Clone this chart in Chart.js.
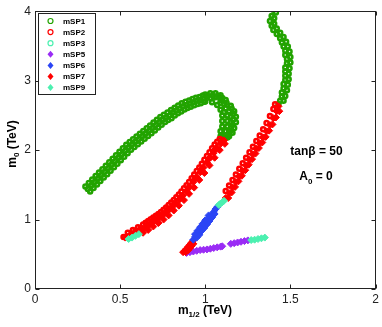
<!DOCTYPE html>
<html>
<head>
<meta charset="utf-8">
<script src="https://cdn.jsdelivr.net/npm/chart.js"></script>
<style>
  body { margin: 0; background: #fff; }
  #wrap { width: 382px; height: 327px; }
</style>
</head>
<body>
<div id="wrap"><canvas id="chart" width="382" height="327"></canvas></div>
<script>
// ticks
const xTicks = [0, 0.5, 1, 1.5, 2];
const yTicks = [0, 1, 2, 3, 4];

// mSP1 (green open circles): left arc, hook, upper right branch
const mSP1 = [
  // arc, centre row
  [0.31, 1.44], [0.33, 1.49], [0.35, 1.54], [0.37, 1.59], [0.39, 1.64], [0.41, 1.69],
  [0.43, 1.74], [0.45, 1.79], [0.47, 1.84], [0.49, 1.89], [0.51, 1.94], [0.53, 1.99],
  [0.55, 2.04], [0.57, 2.08], [0.59, 2.12], [0.61, 2.16], [0.63, 2.20], [0.65, 2.24],
  [0.67, 2.28], [0.69, 2.32], [0.71, 2.36], [0.73, 2.40], [0.75, 2.44], [0.77, 2.47],
  [0.79, 2.50], [0.81, 2.54], [0.83, 2.57], [0.85, 2.60], [0.87, 2.63], [0.89, 2.65],
  [0.91, 2.67], [0.93, 2.69], [0.95, 2.71], [0.97, 2.72], [0.99, 2.74],
  // arc, upper row
  [0.296, 1.476], [0.316, 1.526], [0.336, 1.576], [0.356, 1.626], [0.376, 1.676],
  [0.396, 1.726], [0.416, 1.776], [0.436, 1.826], [0.456, 1.876], [0.476, 1.926],
  [0.496, 1.976], [0.516, 2.026], [0.536, 2.076], [0.556, 2.116], [0.576, 2.156],
  [0.596, 2.196], [0.616, 2.236], [0.636, 2.276], [0.656, 2.316], [0.676, 2.356],
  [0.696, 2.396], [0.716, 2.436], [0.736, 2.476], [0.757, 2.508], [0.778, 2.54],
  [0.799, 2.578], [0.82, 2.61], [0.841, 2.643], [0.862, 2.675], [0.884, 2.695],
  [0.905, 2.715], [0.925, 2.735], [0.945, 2.755], [0.966, 2.765], [0.986, 2.785],
  // arc, lower row
  [0.324, 1.404], [0.344, 1.454], [0.364, 1.504], [0.384, 1.554], [0.404, 1.604],
  [0.424, 1.654], [0.444, 1.704], [0.464, 1.754], [0.484, 1.804], [0.504, 1.854],
  [0.524, 1.904], [0.544, 1.954], [0.564, 2.004], [0.584, 2.044], [0.604, 2.084],
  [0.624, 2.124], [0.644, 2.164], [0.664, 2.204], [0.684, 2.244], [0.704, 2.284],
  [0.724, 2.324], [0.744, 2.364], [0.764, 2.404], [0.782, 2.432], [0.802, 2.46],
  [0.821, 2.50], [0.84, 2.53], [0.859, 2.557], [0.878, 2.585], [0.896, 2.605],
  [0.915, 2.625], [0.935, 2.645], [0.955, 2.665], [0.974, 2.675], [0.994, 2.695],
  // hook
  [1.00, 2.80], [1.03, 2.82], [1.06, 2.82], [1.09, 2.79], [1.12, 2.72], [1.15, 2.64],
  [1.17, 2.56], [1.18, 2.48], [1.18, 2.40], [1.17, 2.32], [1.16, 2.25], [1.14, 2.20],
  [1.11, 2.17],
  [1.00, 2.70], [1.04, 2.69], [1.07, 2.65], [1.09, 2.58], [1.10, 2.50], [1.10, 2.42],
  [1.10, 2.34], [1.09, 2.27], [1.09, 2.20],
  [1.03, 2.75], [1.06, 2.76], [1.09, 2.72], [1.11, 2.66], [1.12, 2.60], [1.14, 2.56],
  [1.13, 2.50], [1.15, 2.48], [1.13, 2.42], [1.15, 2.40], [1.13, 2.34], [1.15, 2.32],
  [1.12, 2.27], [1.14, 2.26], [1.12, 2.21], [1.11, 2.55], [1.09, 2.68],
  [1.015, 2.78], [1.045, 2.79], [1.075, 2.78], [1.10, 2.75], [1.125, 2.68], [1.155, 2.60],
  [1.165, 2.52], [1.165, 2.44], [1.16, 2.36], [1.15, 2.28], [1.13, 2.18], [1.10, 2.22],
  // upper right branch
  [1.40, 4.02], [1.39, 3.93], [1.38, 3.86], [1.39, 3.79], [1.40, 3.73], [1.42, 3.67],
  [1.44, 3.61], [1.45, 3.55], [1.46, 3.49], [1.47, 3.43], [1.47, 3.37], [1.48, 3.31],
  [1.48, 3.25], [1.47, 3.19], [1.47, 3.13], [1.47, 3.07], [1.47, 3.01], [1.46, 2.95],
  [1.46, 2.89], [1.45, 2.83], [1.45, 2.77], [1.44, 2.71], [1.43, 2.66],
  [1.415, 3.98], [1.405, 3.90], [1.405, 3.82], [1.42, 3.75], [1.44, 3.69], [1.46, 3.63],
  [1.475, 3.56], [1.485, 3.49], [1.495, 3.42], [1.50, 3.34], [1.50, 3.26], [1.495, 3.18],
  [1.49, 3.10], [1.49, 3.02], [1.485, 2.94], [1.48, 2.86], [1.47, 2.78], [1.46, 2.71]
];

// mSP2 (red open circles): upper-left edge of both red bands
const mSP2 = [
  [0.52, 0.75], [0.545, 0.81], [0.575, 0.85], [0.605, 0.89], [0.635, 0.93], [0.665, 0.98],
  [0.695, 1.03], [0.725, 1.08], [0.755, 1.14], [0.785, 1.21], [0.815, 1.28], [0.845, 1.36],
  [0.875, 1.45], [0.905, 1.54], [0.935, 1.65], [0.965, 1.75], [0.995, 1.86], [1.025, 1.97],
  [1.055, 2.08], [1.085, 2.16],
  [0.59, 0.83], [0.62, 0.87], [0.65, 0.955], [0.68, 1.005], [0.71, 1.055], [0.74, 1.11],
  [0.77, 1.175], [0.80, 1.245], [0.83, 1.32], [0.86, 1.405], [0.89, 1.495], [0.92, 1.595],
  [0.95, 1.70], [0.98, 1.805], [1.01, 1.915], [1.04, 2.025], [1.07, 2.12],
  [1.12, 1.41], [1.14, 1.49], [1.16, 1.57], [1.18, 1.65], [1.20, 1.73], [1.22, 1.81],
  [1.24, 1.89], [1.26, 1.97], [1.28, 2.05], [1.30, 2.13], [1.32, 2.21], [1.34, 2.30],
  [1.36, 2.39], [1.38, 2.49], [1.40, 2.59], [1.41, 2.66]
];

const mSP3 = [];

// mSP5 (purple diamonds): low branch
const mSP5 = [
  [0.89, 0.52], [0.91, 0.53], [0.93, 0.54], [0.95, 0.55], [0.97, 0.56], [0.99, 0.565],
  [1.01, 0.57], [1.03, 0.58], [1.05, 0.59], [1.07, 0.60], [1.09, 0.61], [1.10, 0.615],
  [1.15, 0.65], [1.17, 0.66], [1.19, 0.67], [1.21, 0.68], [1.23, 0.69], [1.25, 0.70]
];

// mSP6 (blue diamonds)
const mSP6 = [
  [0.93, 0.71], [0.94, 0.75], [0.95, 0.79], [0.965, 0.83], [0.975, 0.87], [0.99, 0.91],
  [1.00, 0.95], [1.015, 0.99], [1.025, 1.03], [1.04, 1.07], [1.05, 1.11], [1.06, 1.15],
  [1.07, 1.18],
  [0.95, 0.74], [0.965, 0.78], [0.98, 0.84], [0.995, 0.88], [1.01, 0.93], [1.025, 0.98],
  [1.04, 1.03], [1.055, 1.08],
  [0.94, 0.79], [0.955, 0.84], [0.97, 0.89], [0.985, 0.94], [1.00, 0.99], [1.02, 1.06]
];

// mSP7 (red diamonds): body of the red bands
const mSP7 = [
  // left band, centre row
  [0.53, 0.74], [0.55, 0.76], [0.57, 0.785], [0.59, 0.81], [0.61, 0.835], [0.63, 0.86],
  [0.65, 0.89], [0.67, 0.92], [0.69, 0.955], [0.71, 0.99], [0.73, 1.025], [0.75, 1.06],
  [0.77, 1.10], [0.79, 1.145], [0.81, 1.19], [0.83, 1.24], [0.85, 1.29], [0.87, 1.35],
  [0.89, 1.41], [0.91, 1.47], [0.93, 1.54], [0.95, 1.61], [0.97, 1.68], [0.99, 1.75],
  [1.01, 1.82], [1.03, 1.89], [1.05, 1.96], [1.07, 2.03], [1.09, 2.09], [1.11, 2.14],
  // left band, between centre and upper edge
  [0.66, 0.925], [0.70, 0.99], [0.74, 1.063], [0.78, 1.14], [0.82, 1.235], [0.86, 1.34],
  [0.90, 1.46], [0.94, 1.595], [0.98, 1.735], [1.02, 1.875], [1.06, 2.015], [1.10, 2.135],
  // left band, lower row
  [0.635, 0.81], [0.665, 0.85], [0.695, 0.90], [0.725, 0.95], [0.755, 1.00], [0.785, 1.06],
  [0.815, 1.13], [0.845, 1.20], [0.875, 1.28], [0.905, 1.37], [0.935, 1.46], [0.965, 1.57],
  [0.995, 1.67], [1.025, 1.78], [1.055, 1.89], [1.085, 2.00], [1.115, 2.09],
  // right band, bottom
  [0.87, 0.53], [0.88, 0.55], [0.89, 0.58], [0.90, 0.61], [0.91, 0.64], [0.92, 0.67],
  [0.93, 0.70], [0.885, 0.53], [0.90, 0.56], [0.91, 0.59], [0.92, 0.62], [0.93, 0.65],
  // right band, above the cyan
  [1.12, 1.31], [1.14, 1.38], [1.16, 1.46], [1.18, 1.54], [1.20, 1.62], [1.22, 1.70],
  [1.24, 1.78], [1.26, 1.86], [1.28, 1.94], [1.30, 2.02], [1.32, 2.10], [1.34, 2.18],
  [1.36, 2.27], [1.38, 2.36], [1.40, 2.46], [1.42, 2.56], [1.43, 2.63],
  [1.135, 1.31], [1.155, 1.39], [1.175, 1.47], [1.195, 1.55], [1.215, 1.63], [1.235, 1.71],
  [1.255, 1.79], [1.275, 1.87], [1.295, 1.95], [1.315, 2.03], [1.335, 2.11], [1.355, 2.19],
  [1.375, 2.28], [1.395, 2.37], [1.415, 2.47], [1.435, 2.56]
];

// mSP9 (cyan diamonds)
const mSP9 = [
  [0.55, 0.72], [0.57, 0.74], [0.59, 0.765], [0.61, 0.79],
  [1.08, 1.21], [1.09, 1.23], [1.10, 1.25], [1.11, 1.27],
  [1.27, 0.705], [1.29, 0.71], [1.31, 0.72], [1.33, 0.73], [1.35, 0.74]
];

const GREEN = '#22a300';
const RED = '#ff0000';
const CYAN = '#4cf0b0';
const PURPLE = '#9a2cf5';
const BLUE = '#2b45f5';

const toXY = arr => arr.map(p => ({ x: p[0], y: p[1] }));

function openSet(label, data, color, order) {
  return {
    label, data: toXY(data), order,
    pointStyle: 'circle', pointRadius: 2, borderWidth: 2.5,
    borderColor: color, backgroundColor: 'rgba(0,0,0,0)'
  };
}
function fillSet(label, data, color, order) {
  return {
    label, data: toXY(data), order,
    pointStyle: 'rectRot', pointRadius: 3.5, borderWidth: 1,
    borderColor: color, backgroundColor: color
  };
}

const datasets = [
  openSet('mSP1', mSP1, GREEN, 6),
  openSet('mSP2', mSP2, RED, 5),
  openSet('mSP3', mSP3, CYAN, 4),
  fillSet('mSP5', mSP5, PURPLE, 3),
  fillSet('mSP6', mSP6, BLUE, 1),
  fillSet('mSP7', mSP7, RED, 2),
  fillSet('mSP9', mSP9, CYAN, 0)
];

const FONT = '"Liberation Sans", Arial, Helvetica, sans-serif';

// draw text made of parts (subscripts shifted by dy)
function subText(ctx, parts, x, y, align) {
  let total = 0;
  parts.forEach(p => { ctx.font = p.font; p.w = ctx.measureText(p.t).width; total += p.w; });
  let cx = align === 'center' ? x - total / 2 : x;
  parts.forEach(p => {
    ctx.font = p.font;
    ctx.fillText(p.t, cx, y + (p.dy || 0));
    cx += p.w;
  });
}

const framePlugin = {
  id: 'frame',
  afterDatasetsDraw(chart) {
    const ctx = chart.ctx;
    const a = chart.chartArea;
    const xs = chart.scales.x, ys = chart.scales.y;
    ctx.save();
    ctx.strokeStyle = '#222';
    ctx.lineWidth = 1;
    const L = Math.round(a.left) + 0.5, R = Math.round(a.right) - 0.5;
    const T = Math.round(a.top) + 0.5, B = Math.round(a.bottom) - 0.5;
    ctx.strokeRect(L, T, R - L, B - T);
    ctx.beginPath();
    xTicks.forEach(v => {
      const px = Math.round(xs.getPixelForValue(v)) + 0.5;
      ctx.moveTo(px, B); ctx.lineTo(px, B - 4);
      ctx.moveTo(px, T); ctx.lineTo(px, T + 4);
    });
    yTicks.forEach(v => {
      const py = Math.round(ys.getPixelForValue(v)) + 0.5;
      ctx.moveTo(L, py); ctx.lineTo(L + 4, py);
      ctx.moveTo(R, py); ctx.lineTo(R - 4, py);
    });
    ctx.stroke();

    // legend box
    ctx.fillStyle = '#fff';
    ctx.fillRect(38.5, 13.5, 57, 81);
    ctx.strokeRect(38.5, 13.5, 57, 81);
    chart.data.datasets.forEach((ds, i) => {
      const cy = 21 + i * 11.1;
      const cx = 50.5;
      ctx.beginPath();
      if (ds.pointStyle === 'circle') {
        ctx.arc(cx, cy, 2.5, 0, Math.PI * 2);
        ctx.strokeStyle = ds.borderColor;
        ctx.lineWidth = 1.2;
        ctx.stroke();
      } else {
        ctx.moveTo(cx, cy - 3.5); ctx.lineTo(cx + 3, cy);
        ctx.lineTo(cx, cy + 3.5); ctx.lineTo(cx - 3, cy);
        ctx.closePath();
        ctx.fillStyle = ds.backgroundColor;
        ctx.fill();
      }
      ctx.fillStyle = '#000';
      ctx.font = 'bold 8px ' + FONT;
      ctx.textBaseline = 'middle';
      ctx.textAlign = 'left';
      ctx.fillText(ds.label, 63, cy + 0.5);
    });

    // annotations
    ctx.fillStyle = '#000';
    ctx.textBaseline = 'alphabetic';
    ctx.textAlign = 'left';
    subText(ctx, [{ t: 'tanβ = 50', font: 'bold 12px ' + FONT }], 316.5, 154.5, 'center');
    subText(ctx, [
      { t: 'A', font: 'bold 12px ' + FONT },
      { t: '0', font: 'bold 8px ' + FONT, dy: 4 },
      { t: ' = 0', font: 'bold 12px ' + FONT }
    ], 316, 179.5, 'center');

    // axis titles
    subText(ctx, [
      { t: 'm', font: 'bold 12px ' + FONT },
      { t: '1/2', font: 'bold 8px ' + FONT, dy: 3 },
      { t: ' (TeV)', font: 'bold 12px ' + FONT }
    ], 205, 313.5, 'center');
    ctx.translate(15.5, 144);
    ctx.rotate(-Math.PI / 2);
    subText(ctx, [
      { t: 'm', font: 'bold 12px ' + FONT },
      { t: '0', font: 'bold 8px ' + FONT, dy: 3 },
      { t: ' (TeV)', font: 'bold 12px ' + FONT }
    ], 0, 0, 'center');
    ctx.restore();
  }
};

new Chart(document.getElementById('chart'), {
  type: 'scatter',
  data: { datasets },
  options: {
    responsive: false,
    animation: false,
    events: [],
    layout: { padding: { left: 0, right: 6, top: 10, bottom: 0 } },
    plugins: { legend: { display: false }, tooltip: { enabled: false } },
    scales: {
      x: {
        type: 'linear', min: 0, max: 2,
        afterFit: s => { s.height = 38; },
        afterBuildTicks: s => { s.ticks = xTicks.map(v => ({ value: v })); },
        grid: { display: false, drawTicks: false },
        border: { display: false },
        ticks: {
          padding: 3,
          color: '#222',
          font: { family: FONT, size: 12 },
          callback: v => String(v)
        }
      },
      y: {
        type: 'linear', min: 0, max: 4,
        afterFit: s => { s.width = 35; },
        afterBuildTicks: s => { s.ticks = yTicks.map(v => ({ value: v })); },
        grid: { display: false, drawTicks: false },
        border: { display: false },
        ticks: {
          padding: 4,
          color: '#222',
          font: { family: FONT, size: 12 },
          callback: v => String(v)
        }
      }
    }
  },
  plugins: [framePlugin]
});
</script>
</body>
</html>
